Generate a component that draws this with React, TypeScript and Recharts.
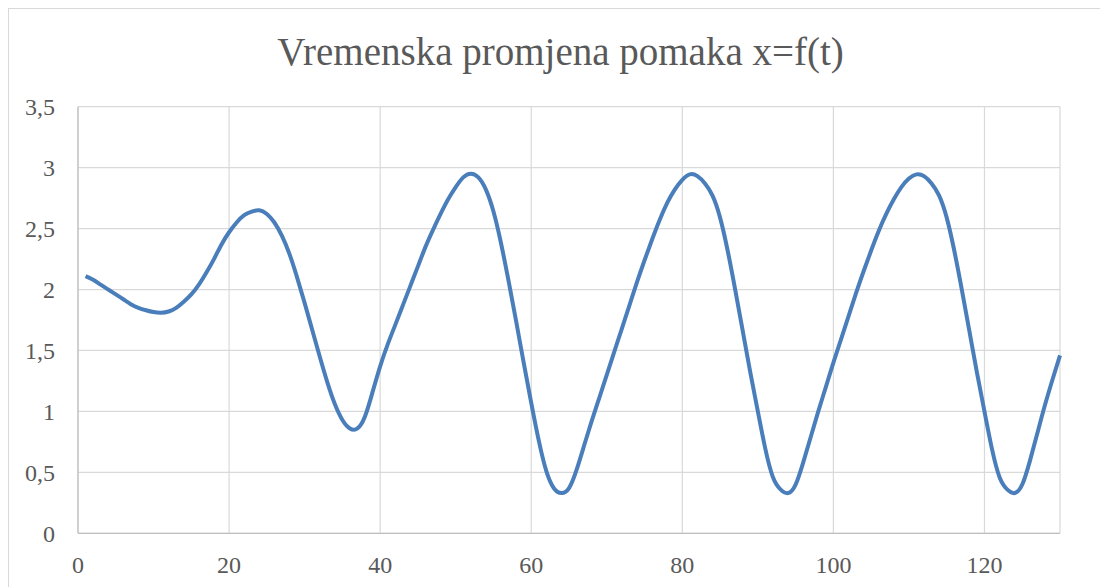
import React from 'react';
import { LineChart, Line, XAxis, YAxis, CartesianGrid } from 'recharts';

const title = 'Vremenska promjena pomaka x=f(t)';

const times = [
  1, 2, 3, 4, 5, 6, 7, 8, 9, 10, 11, 12, 13, 14, 15, 16, 17, 18, 19, 20,
  21, 22, 23, 24, 25, 26, 27, 28, 29, 30, 31, 32, 33, 34, 35, 36, 37, 38, 39, 40,
  41, 42, 43, 44, 45, 46, 47, 48, 49, 50, 51, 52, 53, 54, 55, 56, 57, 58, 59, 60,
  61, 62, 63, 64, 65, 66, 67, 68, 69, 70, 71, 72, 73, 74, 75, 76, 77, 78, 79, 80,
  81, 82, 83, 84, 85, 86, 87, 88, 89, 90, 91, 92, 93, 94, 95, 96, 97, 98, 99, 100,
  101, 102, 103, 104, 105, 106, 107, 108, 109, 110, 111, 112, 113, 114, 115, 116, 117, 118, 119, 120,
  121, 122, 123, 124, 125, 126, 127, 128, 129, 130,
];

const displacement = [
  // t = 1..34
  2.11, 2.08, 2.04, 2.0, 1.96, 1.92, 1.88, 1.85, 1.83, 1.815,
  1.81, 1.82, 1.85, 1.9, 1.96, 2.04, 2.14, 2.25, 2.37, 2.47,
  2.55, 2.61, 2.64, 2.65, 2.62, 2.55, 2.44, 2.29, 2.1, 1.89,
  1.67, 1.45, 1.24, 1.06,
  // t = 35..64
  0.93, 0.86, 0.86, 0.96, 1.16, 1.37, 1.55, 1.71, 1.87, 2.03,
  2.19, 2.35, 2.49, 2.62, 2.74, 2.84, 2.92, 2.95, 2.92, 2.82,
  2.64, 2.38, 2.07, 1.74, 1.4, 1.07, 0.76, 0.51, 0.37, 0.33,
  // t = 65..94
  0.37, 0.52, 0.72, 0.92, 1.11, 1.3, 1.49, 1.68, 1.87, 2.06,
  2.24, 2.41, 2.57, 2.71, 2.82, 2.9, 2.945, 2.93, 2.87, 2.77,
  2.59, 2.32, 2.0, 1.66, 1.32, 1.0, 0.69, 0.46, 0.36, 0.33,
  // t = 95..124
  0.4, 0.58, 0.79, 1.0, 1.2, 1.4, 1.59, 1.78, 1.97, 2.15,
  2.32, 2.48, 2.62, 2.74, 2.84, 2.91, 2.945, 2.93, 2.87, 2.77,
  2.59, 2.32, 2.0, 1.66, 1.32, 1.0, 0.69, 0.46, 0.36, 0.33,
  // t = 125..130
  0.4, 0.59, 0.82, 1.05, 1.26, 1.46,
];

const xTicks = [0, 20, 40, 60, 80, 100, 120];
const yTicks = [0, 0.5, 1, 1.5, 2, 2.5, 3, 3.5];

const data = times.map((t, i) => ({ t, x: displacement[i] }));

const FONT = '"Liberation Serif", "Times New Roman", serif';
const TEXT = '#595959';

export default function App() {
  return (
    <div
      style={{
        position: 'fixed',
        left: 0,
        top: 0,
        width: 1100,
        height: 587,
        overflow: 'hidden',
        background: '#ffffff',
      }}
    >
      <div
        style={{
          position: 'absolute',
          left: 8,
          top: 8,
          width: 1105,
          height: 640,
          border: '1px solid #d9d9d9',
          boxSizing: 'border-box',
          background: '#ffffff',
        }}
      >
        <div
          style={{
            position: 'absolute',
            left: 0,
            top: 23.4,
            width: 1103,
            textAlign: 'center',
            fontFamily: FONT,
            fontSize: 39,
            lineHeight: '39px',
            color: TEXT,
            whiteSpace: 'nowrap',
          }}
        >
          {title}
        </div>
        <div style={{ position: 'absolute', left: 0, top: 0 }}>
          <LineChart
            width={1103}
            height={600}
            data={data}
            margin={{ top: 97.7, right: 52, bottom: 35.7, left: 9 }}
          >
            <CartesianGrid stroke="#d9d9d9" strokeWidth={1.2} />
            <XAxis
              dataKey="t"
              type="number"
              domain={[0, 130]}
              ticks={xTicks}
              interval={0}
              tickLine={false}
              tickSize={0}
              tickMargin={23}
              height={40}
              axisLine={{ stroke: '#bfbfbf', strokeWidth: 1.2 }}
              tick={{ fill: TEXT, fontSize: 24, fontFamily: FONT }}
            />
            <YAxis
              type="number"
              domain={[0, 3.5]}
              ticks={yTicks}
              interval={0}
              width={60}
              tickLine={false}
              tickSize={0}
              tickMargin={23}
              axisLine={{ stroke: '#bfbfbf', strokeWidth: 1.2 }}
              tick={{ fill: TEXT, fontSize: 24, fontFamily: FONT }}
              tickFormatter={(v: number) => String(v).replace('.', ',')}
            />
            <Line
              type="natural"
              dataKey="x"
              stroke="#4a7ebb"
              strokeWidth={4}
              dot={false}
              activeDot={false}
              isAnimationActive={false}
            />
          </LineChart>
        </div>
      </div>
    </div>
  );
}
